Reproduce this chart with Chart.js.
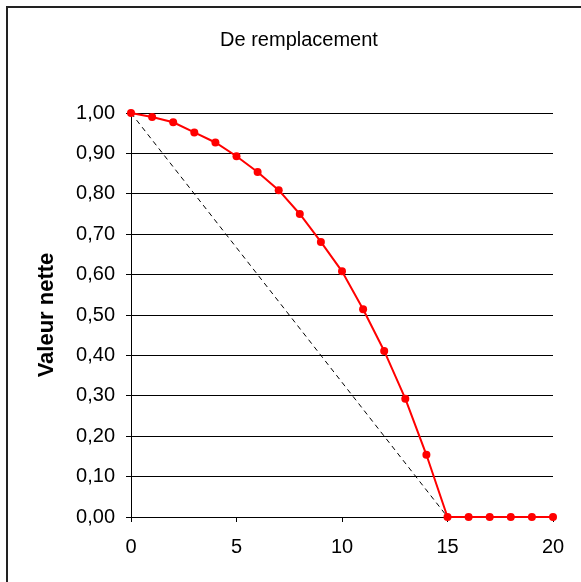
<!DOCTYPE html>
<html>
<head>
<meta charset="utf-8">
<script src="https://cdn.jsdelivr.net/npm/chart.js@4"></script>
<style>
  html, body { margin: 0; padding: 0; background: #fff; overflow: hidden; }
  #wrap { position: relative; width: 581px; height: 582px; }
  #frame { position: absolute; left: 6px; top: 6px; width: 620px; height: 620px; border: 2px solid #222; box-sizing: border-box; }
  canvas { position: absolute; left: 0; top: 0; }
</style>
</head>
<body>
<div id="wrap">
  <div id="frame"></div>
  <canvas id="chart" width="581" height="582"></canvas>
</div>
<script>
// years and net value
const annees = [0, 1, 2, 3, 4, 5, 6, 7, 8, 9, 10, 11, 12, 13, 14, 15, 16, 17, 18, 19, 20];
const valeurNette = [1.00, 0.99, 0.977, 0.952, 0.927, 0.893, 0.854, 0.809, 0.75, 0.681, 0.608,
                     0.514, 0.411, 0.293, 0.154, 0, 0, 0, 0, 0, 0];
// straight-line reference (dashed)
const lineaireX = [0, 15];
const lineaireY = [1, 0];

const fontFamily = '"Liberation Sans", Arial, sans-serif';
Chart.defaults.font.family = fontFamily;
Chart.defaults.color = '#000';

const ctx = document.getElementById('chart');

new Chart(ctx, {
    type: 'line',
    data: {
        datasets: [{
            label: 'Valeur nette',
            data: annees.map((x, i) => ({x: x, y: valeurNette[i]})),
            borderColor: '#ff0000',
            backgroundColor: '#ff0000',
            borderWidth: 2,
            pointRadius: 4,
            pointBorderWidth: 0,
            tension: 0,
            clip: false,
            order: 1
        }, {
            label: 'Linéaire',
            data: lineaireX.map((x, i) => ({x: x, y: lineaireY[i]})),
            borderColor: '#000',
            borderWidth: 1,
            borderDash: [5, 4],
            pointRadius: 0,
            tension: 0,
            clip: false,
            order: 2
        }]
    },
    options: {
        responsive: false,
        animation: false,
        layout: { padding: { left: 45, right: 28, top: 0, bottom: 0 } },
        plugins: {
            legend: { display: false },
            tooltip: { enabled: false },
            title: {
                display: true,
                text: 'De remplacement',
                font: { size: 20, weight: 'normal' },
                color: '#000',
                padding: { top: 28, bottom: 61 }
            }
        },
        scales: {
            x: {
                type: 'linear',
                min: 0,
                max: 20,
                ticks: {
                    stepSize: 5,
                    padding: 13,
                    font: { size: 20 },
                    maxRotation: 0
                },
                grid: {
                    drawOnChartArea: false,
                    drawTicks: true,
                    tickLength: 5,
                    color: '#000'
                },
                border: { display: true, color: '#000', width: 1 },
                afterFit: (scale) => { scale.height = 65; }
            },
            y: {
                min: 0,
                max: 1,
                ticks: {
                    stepSize: 0.1,
                    padding: 11,
                    font: { size: 20 },
                    callback: (v) => v.toFixed(2).replace('.', ',')
                },
                grid: {
                    color: '#000',
                    tickLength: 5,
                    lineWidth: 1
                },
                border: { display: true, color: '#000', width: 1 },
                title: {
                    display: true,
                    text: 'Valeur nette',
                    font: { size: 22, weight: 'bold' },
                    color: '#000',
                    padding: { top: -11, bottom: 0 }
                },
                afterFit: (scale) => { scale.width = 86; }
            }
        }
    }
});
</script>
</body>
</html>
